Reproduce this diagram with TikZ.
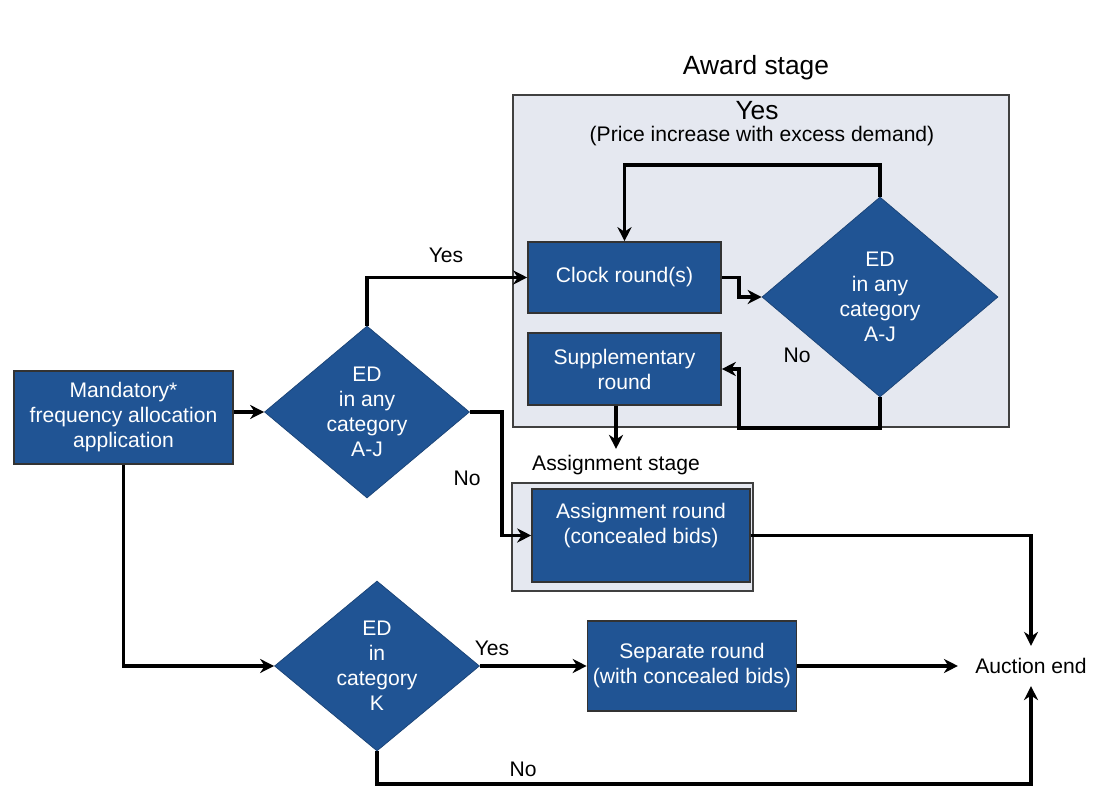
\documentclass[tikz,border=0pt]{standalone}
\usepackage{fontspec}
\setmainfont{Liberation Sans}
\usetikzlibrary{shapes.geometric, arrows.meta}
\definecolor{bleu}{RGB}{32,84,148}
\definecolor{fond}{RGB}{229,232,240}
\begin{document}
\begin{tikzpicture}[fleche/.style={-{Stealth[length=8pt, width=8pt]}, line width=2pt}, font=\fontsize{12}{14.2}\selectfont]
        \tikzset{boite/.style={rectangle, draw=black!80, fill=bleu, text=white, align=center, inner sep=0pt, line width=0.9pt}};
        \tikzset{losange/.style={diamond, draw=bleu!80!black, fill=bleu, text=white, align=center, inner sep=0pt, aspect=1.2}};
        \useasboundingbox (0, 0) rectangle (22, 15.74);

        % cadres des etapes
        \draw[draw=black!75, fill=fond, line width=0.9pt] (10.26, 13.84) rectangle (20.18, 7.2);
        \draw[draw=black!75, fill=fond, line width=0.9pt] (10.24, 6.08) rectangle (15.06, 3.92);

        \node (award) at (15.12, 14.38) {\fontsize{15}{17}\selectfont Award stage};
        \node (oui) at (15.14, 13.52) {\fontsize{15}{17}\selectfont Yes};
        \node (hausse) at (15.24, 13.02) {(Price increase with excess demand)};

        \node[boite, minimum width=4.38cm, minimum height=1.86cm] (mand) at (2.47, 7.39) {Mandatory*\\frequency allocation\\application};
        \node[losange, minimum width=4.1cm, minimum height=3.44cm] (dA) at (7.34, 7.5) {ED\\in any\\category\\A-J};
        \node[boite, minimum width=3.86cm, minimum height=1.42cm] (clock) at (12.49, 10.19) {Clock round(s)};
        \node[boite, minimum width=3.86cm, minimum height=1.44cm] (supp) at (12.49, 8.36) {Supplementary\\round};
        \node[losange, minimum width=4.72cm, minimum height=4cm] (dB) at (17.6, 9.8) {ED\\in any\\category\\A-J};
        \node (etape) at (12.32, 6.44) {Assignment stage};
        \node[boite, minimum width=4.36cm, minimum height=1.86cm] (assign) at (12.82, 5.03) {Assignment round\\(concealed bids)\\\mbox{}};
        \node[losange, minimum width=4.1cm, minimum height=3.4cm] (dK) at (7.54, 2.42) {ED\\in\\category\\K};
        \node[boite, minimum width=4.18cm, minimum height=1.8cm] (sep) at (13.84, 2.42) {Separate round\\(with concealed bids)};
        \node[inner xsep=0.34cm, inner ysep=0.24cm] (fin) at (20.62, 2.42) {Auction end};

        \node (oui1) at (8.92, 10.64) {Yes};
        \node (non1) at (9.34, 6.18) {No};
        \node (non2) at (15.94, 8.64) {No};
        \node (oui2) at (9.84, 2.78) {Yes};
        \node (non3) at (10.46, 0.36) {No};

        % liaisons
        \draw[fleche] (mand.east |- dA.west) -- (dA.west);
        \draw[fleche] (dA.north) |- (clock.west);
        \draw[fleche] (dA.east) -- ++(0.64, 0) |- (assign.west);
        \draw[fleche] (clock.east) -- ++(0.34, 0) |- (dB.west);
        \coordinate (boucle) at (17.6, 12.44);
        \draw[fleche] (dB.north) -- (boucle) -| (clock.north);
        \coordinate (retour) at (14.78, 7.18);
        \draw[fleche] (dB.south) |- (retour) |- (supp.east);
        \draw[fleche] (supp.south -| etape.north) -- (etape.north);
        \draw[fleche] (assign.east) -| (fin.north);
        \draw[fleche] (dK.east) -- (sep.west);
        \draw[fleche] (sep.east) -- (fin.west);
        \draw[fleche] (mand.south) |- (dK.west);
        \coordinate (bas) at (7.54, 0.06);
        \draw[fleche] (dK.south) -- (bas) -| (fin.south);
    \end{tikzpicture}
\end{document}
